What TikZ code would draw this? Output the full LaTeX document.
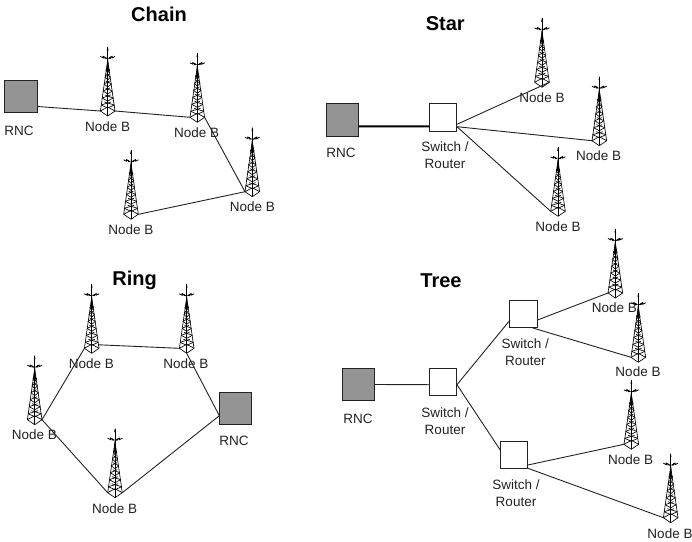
\documentclass[tikz,border=0pt]{standalone}
\usepackage{fontspec}
\setmainfont{Liberation Sans}
\usetikzlibrary{calc}
\definecolor{ink}{HTML}{222222}
\definecolor{rncgray}{HTML}{949494}
\tikzset{
  x=1pt,y=-1pt,
  rncbox/.style={draw=ink,fill=rncgray,line width=1pt,minimum size=32.5pt,inner sep=0pt,outer sep=0pt},
  swbox/.style={draw=ink,fill=white,line width=1pt,minimum size=27.5pt,inner sep=0pt,outer sep=0pt},
  lbl/.style={text=ink,font=\fontsize{13.5}{17}\selectfont,align=center,inner sep=0pt},
  ttl/.style={text=black,font=\fontsize{20}{24}\selectfont\bfseries,inner sep=0pt},
  link/.style={draw=ink,line width=0.9pt},
  tower/.pic={
    \coordinate (-l) at (-7.3,-5);
    \coordinate (-r) at (7.3,-5);
    \coordinate (-b) at (0,0);
    \coordinate (-u) at (7.3,-8.5);
    \begin{scope}[black,line width=0.65pt,line join=round]
      \draw (0,-56) -- (-7.3,-5) -- (0,0) -- (7.3,-5) -- cycle;
      \draw (-7.3,-5) -- (0,-9) -- (7.3,-5);
      \draw (0,-56) -- (0,0);
      \foreach \h/\w in {8/6.6,15/5.6,22/4.6,29/3.8,36/2.8,43/1.9}{
        \draw (-\w,-\h-3) -- (0,-\h) -- (\w,-\h-3);
        \draw (-\w,-\h-3) -- (\w*0.5,-\h-6);
        \draw (\w,-\h-3) -- (-\w*0.5,-\h-6);
      }
      \fill (-1.2,-45) -- (0,-60) -- (1.2,-45) -- cycle;
      \draw (0,-69) -- (0,-56);
      \fill (0,-69.5) -- (-0.8,-65.5) -- (0.8,-65.5) -- cycle;
      \draw[line width=0.8pt] (-7.4,-59.5) -- (-4.2,-58) -- (-4.6,-59.8) -- (-1,-57.5);
      \draw[line width=0.8pt] (7.4,-59.5) -- (4.2,-58) -- (4.6,-59.8) -- (1,-57.5);
      \fill (-0.5,-57.5) -- (-3.2,-59.6) -- (-3.2,-57.2) -- cycle;
      \fill (0.5,-57.5) -- (3.2,-59.6) -- (3.2,-57.2) -- cycle;
    \end{scope}
  }
}
\begin{document}
\begin{tikzpicture}
\useasboundingbox (0,0) rectangle (692,541);
% Chain
\node[ttl] (tchain) at (159,14.5) {Chain};
\node[rncbox] (crnc) at (21.2,96.5) {};
\node[lbl] (lcrnc) at (19,130.7) {RNC};
\pic (c1) at (107.7,116) {tower};
\pic (c2) at (197.3,122.3) {tower};
\pic (c3) at (252.3,196.7) {tower};
\pic (c4) at (131,219.3) {tower};
\node[lbl] (lc1) at (107.7,126.7) {Node B};
\node[lbl] (lc2) at (196.7,132.7) {Node B};
\node[lbl] (lc3) at (252.3,206.7) {Node B};
\node[lbl] (lc4) at (131,229.3) {Node B};
\draw[link] ([yshift=-10pt]crnc.east) -- (c1-l);
\draw[link] (c1-r) -- (c2-l);
\draw[link] (c2-r) -- (c3-l);
\draw[link] (c3-l) -- (c4-r);
% Star
\node[ttl] (tstar) at (445.3,23.3) {Star};
\node[rncbox] (srnc) at (342.6,119.9) {};
\node[lbl] (lsrnc) at (341,153) {RNC};
\node[swbox] (ssw) at (443.2,117.5) {};
\node[lbl] (lssw) at (445,155.6) {Switch /\\Router};
\pic (s1) at (542,87.3) {tower};
\pic (s2) at (599.3,145.7) {tower};
\pic (s3) at (558,216.3) {tower};
\node[lbl] (ls1) at (542,97.3) {Node B};
\node[lbl] (ls2) at (598.7,155.3) {Node B};
\node[lbl] (ls3) at (558,226.3) {Node B};
\draw[draw=black,line width=2pt] ([yshift=-6.4pt]srnc.east) -- ([yshift=-8.8pt]ssw.west);
\draw[link] ([yshift=-6.8pt]ssw.east) -- (s1-r);
\draw[link] ([yshift=-9.2pt]ssw.east) -- (s2-l);
\draw[link] ([yshift=-9.2pt]ssw.east) -- (s3-l);
% Ring
\node[ttl] (tring) at (134.7,280) {Ring};
\pic (r1) at (91.7,353.3) {tower};
\pic (r2) at (186.7,353.3) {tower};
\pic (r3) at (34.7,424.7) {tower};
\pic (r4) at (115,497.7) {tower};
\node[lbl] (lr1) at (91.3,363.3) {Node B};
\node[lbl] (lr2) at (186,363.3) {Node B};
\node[lbl] (lr3) at (34.3,434.3) {Node B};
\node[lbl] (lr4) at (114.7,508.3) {Node B};
\node[rncbox] (rrnc) at (235.6,408.4) {};
\node[lbl] (lrrnc) at (234,441.3) {RNC};
\draw[link] (r1-u) -- (r2-l);
\draw[link] (r1-l) -- (r3-r);
\draw[link] (r3-r) -- (r4-l);
\draw[link] (r4-r) -- ([yshift=-7.3pt]rrnc.west);
\draw[link] ([yshift=-7.3pt]rrnc.west) -- (r2-b);
% Tree
\node[ttl] (ttree) at (441,280.3) {Tree};
\node[rncbox] (trnc) at (358.5,384.5) {};
\node[lbl] (ltrnc) at (358,418.7) {RNC};
\node[swbox] (ta) at (443.2,382.2) {};
\node[lbl] (lta) at (445,420.8) {Switch /\\Router};
\node[swbox] (tb) at (523.7,314.2) {};
\node[lbl] (ltb) at (525.3,352.2) {Switch /\\Router};
\node[swbox] (tc) at (514.2,455.2) {};
\node[lbl] (ltc) at (516,493.3) {Switch /\\Router};
\pic (t1) at (615.3,298) {tower};
\node[lbl] (lt1) at (614.3,307.7) {Node B};
\pic (t2) at (638.3,362.3) {tower};
\pic (t3) at (631.3,449.3) {tower};
\pic (t4) at (670.7,522.7) {tower};
\node[lbl] (lt2) at (638,372) {Node B};
\node[lbl] (lt3) at (630.7,459.3) {Node B};
\node[lbl] (lt4) at (670,533.3) {Node B};
\draw[link] (trnc.east) -- ([yshift=-2.5pt]ta.west);
\draw[link] ([yshift=-2.5pt]ta.east) -- ([yshift=-6pt]tb.west);
\draw[link] ([yshift=-2.5pt]ta.east) -- ([yshift=4.9pt]tc.west);
\draw[link] ([yshift=-5.8pt]tb.east) -- (t1-l);
\draw[link] ([xshift=9pt]tb.south) -- (t2-l);
\draw[link] ([yshift=-9.8pt]tc.east) -- (t3-l);
\draw[link] ([yshift=-13.1pt]tc.east) -- (t4-l);
\end{tikzpicture}
\end{document}
